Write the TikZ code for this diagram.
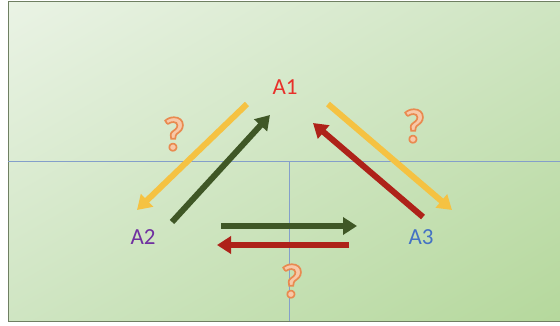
\documentclass[tikz,border=0pt]{standalone}
\usepackage{fontspec}
\setmainfont{Carlito}
\newfontfamily\qfont{Carlito}[FakeBold=3.5]
\usepackage{tikz}
\usetikzlibrary{arrows.meta, shadings}
\definecolor{bgtl}{HTML}{EAF3E5}
\definecolor{bgbr}{HTML}{B5D89C}
\definecolor{bgmid}{HTML}{CFE5C2}
\definecolor{guide}{HTML}{849FCA}
\definecolor{frame}{HTML}{6F7F62}
\definecolor{qyellow}{HTML}{F5C242}
\definecolor{qgreen}{HTML}{3F5726}
\definecolor{qred}{HTML}{AE2219}
\definecolor{aone}{HTML}{E8302A}
\definecolor{atwo}{HTML}{7030A0}
\definecolor{athree}{HTML}{4472C4}
%% light orange fill, darker orange stroke
\newcommand\qsign{\special{pdf:bcolor [0.973 0.784 0.659] [0.914 0.541 0.314]}?\special{pdf:ecolor}}

\begin{document}
\begin{tikzpicture}[x=1pt, y=-1pt,
  label/.style={font=\fontsize{23}{23}\selectfont, inner sep=0pt},
  qmark/.style={font=\qfont\fontsize{48}{48}\selectfont\bfseries, inner sep=0pt},
  arrow/.style={line width=6pt, -{Triangle[length=14pt,width=17pt]}}
]
\useasboundingbox (0,0) rectangle (560,325);
%% Background panel
\shade[upper left=bgtl, upper right=bgmid, lower left=bgmid, lower right=bgbr]
  (8,1) rectangle (560,321);
\draw[frame, line width=1pt] (560,1) -- (8,1) -- (8,321) -- (560,321);
\draw[guide, line width=0.7pt] (8,161) -- (560,161);
\draw[guide, line width=0.7pt] (289,161) -- (289,321);

%% Actors
\node[label, text=aone]   at (285,87)  (a1) {A1};
\node[label, text=atwo]   at (143,237) (a2) {A2};
\node[label, text=athree] at (421,237) (a3) {A3};

%% Arrow ends
\coordinate (a1l) at (247,104);
\coordinate (a2t) at (137,210);
\coordinate (a2r) at (172,222);
\coordinate (a1d) at (270,115);
\coordinate (a1r) at (328,104);
\coordinate (a3t) at (452,210);
\coordinate (a3l) at (423,217);
\coordinate (a1e) at (313,123);
\coordinate (hga) at (221,226);
\coordinate (hgb) at (357,226);
\coordinate (hra) at (349,245);
\coordinate (hrb) at (217,245);

%% Arrows
\draw[arrow, qyellow] (a1l) -- (a2t);
\draw[arrow, qgreen]  (a2r) -- (a1d);
\draw[arrow, qyellow] (a1r) -- (a3t);
\draw[arrow, qred]    (a3l) -- (a1e);
\draw[arrow, qgreen]  (hga) -- (hgb);
\draw[arrow, qred]    (hra) -- (hrb);

%% Question marks
\node[qmark] at (174,134) (q12) {\qsign};
\node[qmark] at (414,126) (q13) {\qsign};
\node[qmark] at (292,281) (q23) {\qsign};
\end{tikzpicture}
\end{document}
